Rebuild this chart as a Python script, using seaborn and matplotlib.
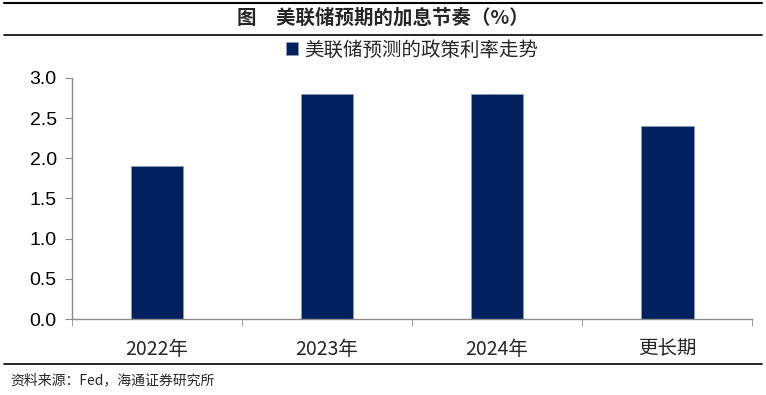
import matplotlib
matplotlib.use("Agg")
import matplotlib.pyplot as plt
import pandas as pd
import seaborn as sns

# data
categories = ["2022年", "2023年", "2024年", "更长期"]
rates = [1.9, 2.8, 2.8, 2.4]
series_name = "美联储预测的政策利率走势"
title = "图　美联储预期的加息节奏（%）"
source = "资料来源：Fed，海通证券研究所"

sns.set_style("white")
plt.rcParams["font.family"] = ["Noto Sans CJK SC", "DejaVu Sans"]

df = pd.DataFrame({"period": categories, "rate": rates, "series": series_name})

fig = plt.figure(figsize=(7.66, 3.95), dpi=100)
ax = fig.add_axes([0.094, 0.192, 0.888, 0.611])

sns.barplot(data=df, x="period", y="rate", hue="series", palette=["#002060"],
            saturation=1, width=0.31, ax=ax, edgecolor="#8a9bb8", linewidth=0.6)

ax.set_ylim(0, 3.0)
ax.set_xlim(-0.5, len(categories) - 0.5)
ax.set_yticks([0, 0.5, 1.0, 1.5, 2.0, 2.5, 3.0])
ax.set_yticklabels([f"{v:.1f}" for v in [0, 0.5, 1.0, 1.5, 2.0, 2.5, 3.0]],
                   family=["Liberation Sans", "DejaVu Sans"], fontsize=14)
ax.set_xlabel("")
ax.set_ylabel("")

for s in ["top", "right"]:
    ax.spines[s].set_visible(False)
for s in ["left", "bottom"]:
    ax.spines[s].set_color("#8c8c8c")
    ax.spines[s].set_linewidth(1.0)

ax.tick_params(axis="y", left=True, length=5, pad=6, colors="#8c8c8c", labelcolor="black")
ax.set_xticks(range(len(categories)))
ax.set_xticklabels(categories, fontsize=14)
ax.set_xticks([i - 0.5 for i in range(len(categories) + 1)], minor=True)
ax.tick_params(axis="x", which="major", length=0, pad=14)
ax.tick_params(axis="x", which="minor", bottom=True, length=5, color="#8c8c8c")

ax.legend(loc="lower center", bbox_to_anchor=(0.5, 1.04), frameon=False,
          fontsize=14, handlelength=0.6, handleheight=0.6, handletextpad=0.3,
          borderaxespad=0)

fig.text(0.5, 0.955, title, ha="center", va="center", fontsize=14, fontweight="bold")
fig.add_artist(plt.Line2D([0.005, 0.995], [0.992, 0.992], color="black", lw=1.5))
fig.add_artist(plt.Line2D([0.005, 0.995], [0.912, 0.912], color="black", lw=1.2))
fig.add_artist(plt.Line2D([0.005, 0.995], [0.078, 0.078], color="black", lw=1.2))
fig.text(0.013, 0.038, source, ha="left", va="center", fontsize=10)

fig.savefig("out.png", dpi=100)
